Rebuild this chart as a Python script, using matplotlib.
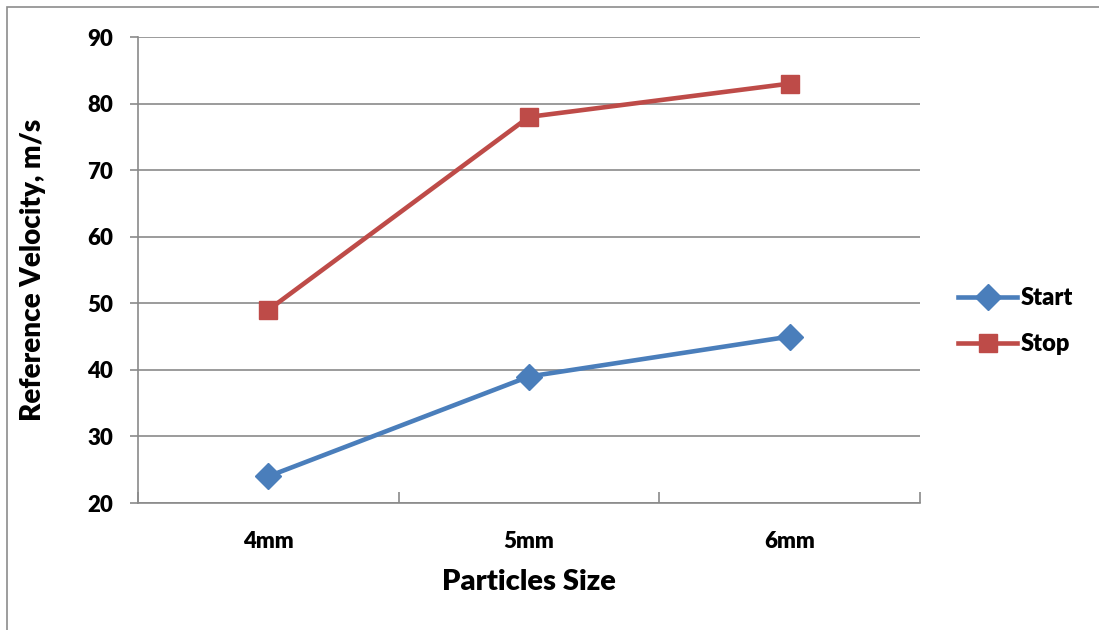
import matplotlib
matplotlib.use("Agg")
import matplotlib.pyplot as plt
from matplotlib.patches import Rectangle

# Data
sizes = ["4mm", "5mm", "6mm"]
start_vel = [24, 39, 45]
stop_vel = [49, 78, 83]

W, H = 1099, 630
FONT = "Lato"
WEIGHT = "heavy"
fig = plt.figure(figsize=(W / 100, H / 100), dpi=100)

# outer chart border (left and top visible)
fig.patches.append(Rectangle((7 / W, -0.05), 1.2, 1 - 7 / H + 0.05,
                             transform=fig.transFigure, fill=False,
                             edgecolor="#8c8c8c", linewidth=1.2))

ax = fig.add_axes([138 / W, 1 - 503 / H, (920 - 138) / W, (503 - 37) / H])

x = list(range(len(sizes)))
ax.plot(x, start_vel, color="#4a7ebb", linewidth=3.3, marker="D",
        markersize=13, label="Start")
ax.plot(x, stop_vel, color="#be4b48", linewidth=3.3, marker="s",
        markersize=13.5, label="Stop")

ax.set_xlim(-0.5, 2.5)
ax.set_ylim(20, 90)
ax.set_yticks(range(20, 91, 10))
ax.set_xticks(x)
ax.set_xticklabels(sizes)
ax.set_xticks([-0.5, 0.5, 1.5, 2.5], minor=True)

ax.grid(axis="y", color="#8a8a8a", linewidth=1.2)
ax.set_axisbelow(True)
for s in ["top", "right"]:
    ax.spines[s].set_visible(False)
for s in ["left", "bottom"]:
    ax.spines[s].set_color("#8a8a8a")
    ax.spines[s].set_linewidth(1.2)

ax.tick_params(axis="y", length=6, color="#8a8a8a", width=1.2, pad=12)
ax.tick_params(axis="x", which="major", length=0, pad=20)
ax.tick_params(axis="x", which="minor", length=8, direction="in",
               color="#8a8a8a", width=1.2)

for lab in ax.get_xticklabels() + ax.get_yticklabels():
    lab.set_fontfamily(FONT)
    lab.set_fontweight(WEIGHT)
    lab.set_fontsize(16)

ax.set_xlabel("Particles Size", fontfamily=FONT, fontweight=WEIGHT,
              fontsize=21)
ax.set_ylabel("Reference Velocity, m/s", fontfamily=FONT,
              fontweight=WEIGHT, fontsize=20)
ax.xaxis.set_label_coords(0.5, (503 - 582) / 466)
ax.xaxis.label.set_va("center")
ax.yaxis.set_label_coords((33 - 138) / 782, 0.5)
ax.yaxis.label.set_va("center")

leg = ax.legend(loc="center left", bbox_to_anchor=((958 - 138) / 782, 0.39),
                frameon=False, borderaxespad=0, borderpad=0,
                prop={"family": FONT, "weight": WEIGHT, "size": 17},
                handlelength=2.5, handletextpad=0.15, labelspacing=1.0)

fig.savefig("out.png", dpi=100)
